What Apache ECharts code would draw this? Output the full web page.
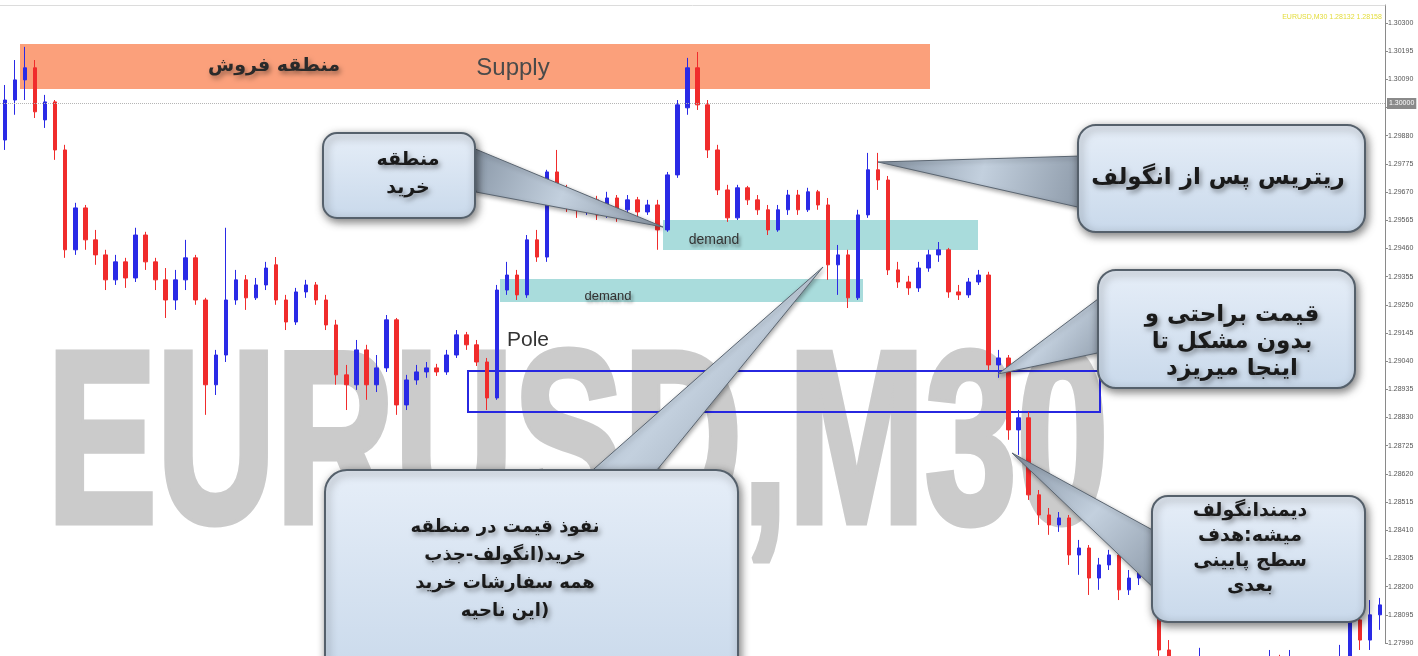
<!DOCTYPE html>
<html>
<head>
<meta charset="utf-8">
<title>EURUSD M30</title>
<script src="https://cdn.jsdelivr.net/npm/echarts@6/dist/echarts.min.js"></script>
<style>
  html, body { margin: 0; padding: 0; background: #fff; }
  #chart-container { width: 1418px; height: 656px; }
</style>
</head>
<body>
<div id="chart-container"></div>
<script>
// EURUSD M30 candles (open / close / low / high)
var opens = [1.29864,1.30013,1.30088,1.30133,1.29939,1.30006,1.29827,1.29455,1.29611,1.29492,
  1.29436,1.29343,1.29410,1.29350,1.29510,1.29410,1.29343,1.29268,1.29343,1.29425,
  1.29268,1.28952,1.29063,1.29268,1.29343,1.29276,1.29324,1.29399,1.29268,1.29186,
  1.29298,1.29324,1.29268,1.29175,1.28989,1.28952,1.29082,1.28952,1.29015,1.29194,
  1.28877,1.28970,1.29000,1.29015,1.29000,1.29063,1.29138,1.29101,1.29037,1.28903,
  1.29305,1.29361,1.29287,1.29492,1.29428,1.29745,1.29659,1.29622,1.29604,1.29641,
  1.29585,1.29648,1.29604,1.29641,1.29596,1.29622,1.29529,1.29734,1.29984,1.30133,
  1.29995,1.29827,1.29678,1.29574,1.29686,1.29641,1.29604,1.29529,1.29604,1.29659,
  1.29604,1.29671,1.29622,1.29399,1.29436,1.29276,1.29585,1.29753,1.29715,1.29380,
  1.29335,1.29313,1.29387,1.29436,1.29455,1.29298,1.29287,1.29335,1.29361,1.29026,
  1.29052,1.28784,1.28829,1.28542,1.28467,1.28430,1.28456,1.28318,1.28344,1.28232,
  1.28281,1.28318,1.28188,1.28232,1.28281,1.28329,1.27964,1.27852,1.27778,1.27815,
  1.27890,1.27778,1.27703,1.27759,1.27722,1.27796,1.27852,1.27908,1.27815,1.27897,
  1.27796,1.27759,1.27815,1.27890,1.27927,1.28076,1.28001,1.28095];
var closes = [1.30013,1.30088,1.30133,1.29969,1.30006,1.29827,1.29455,1.29611,1.29492,1.29436,
  1.29343,1.29410,1.29350,1.29510,1.29410,1.29343,1.29268,1.29343,1.29425,1.29268,
  1.28952,1.29063,1.29268,1.29343,1.29276,1.29324,1.29387,1.29268,1.29186,1.29298,
  1.29324,1.29268,1.29175,1.28989,1.28952,1.29082,1.28952,1.29015,1.29194,1.28877,
  1.28970,1.29000,1.29015,1.29000,1.29063,1.29138,1.29101,1.29037,1.28903,1.29305,
  1.29361,1.29287,1.29492,1.29428,1.29745,1.29659,1.29622,1.29604,1.29641,1.29585,
  1.29648,1.29604,1.29641,1.29596,1.29622,1.29529,1.29734,1.29995,1.30133,1.29995,
  1.29827,1.29678,1.29574,1.29686,1.29641,1.29604,1.29529,1.29604,1.29659,1.29604,
  1.29671,1.29622,1.29399,1.29436,1.29276,1.29585,1.29753,1.29715,1.29380,1.29335,
  1.29313,1.29387,1.29436,1.29455,1.29298,1.29287,1.29335,1.29361,1.29026,1.29052,
  1.28784,1.28829,1.28542,1.28467,1.28430,1.28456,1.28318,1.28344,1.28232,1.28281,
  1.28318,1.28188,1.28232,1.28281,1.28329,1.27964,1.27852,1.27778,1.27815,1.27890,
  1.27778,1.27703,1.27759,1.27722,1.27796,1.27852,1.27908,1.27815,1.27897,1.27796,
  1.27759,1.27815,1.27890,1.27927,1.28076,1.28001,1.28095,1.28132];
var lows = [1.29827,1.29958,1.30013,1.29946,1.29909,1.29790,1.29425,1.29436,1.29455,1.29399,
  1.29305,1.29324,1.29313,1.29335,1.29380,1.29305,1.29201,1.29231,1.29305,1.29250,
  1.28840,1.28914,1.29037,1.29250,1.29231,1.29268,1.29305,1.29250,1.29156,1.29175,
  1.29276,1.29250,1.29156,1.28952,1.28858,1.28933,1.28896,1.28925,1.29000,1.28840,
  1.28858,1.28952,1.28978,1.28985,1.28989,1.29052,1.29082,1.29022,1.28858,1.28896,
  1.29287,1.29268,1.29276,1.29410,1.29410,1.29641,1.29596,1.29574,1.29585,1.29566,
  1.29574,1.29559,1.29585,1.29574,1.29585,1.29455,1.29522,1.29723,1.29958,1.29976,
  1.29797,1.29659,1.29559,1.29566,1.29622,1.29585,1.29510,1.29522,1.29585,1.29585,
  1.29596,1.29604,1.29343,1.29287,1.29238,1.29268,1.29574,1.29678,1.29361,1.29313,
  1.29287,1.29298,1.29373,1.29410,1.29276,1.29268,1.29276,1.29324,1.29007,1.28978,
  1.28747,1.28691,1.28523,1.28430,1.28393,1.28404,1.28281,1.28244,1.28169,1.28188,
  1.28262,1.28150,1.28169,1.28206,1.28262,1.27890,1.27778,1.27703,1.27722,1.27778,
  1.27741,1.27647,1.27666,1.27685,1.27703,1.27778,1.27815,1.27778,1.27796,1.27759,
  1.27703,1.27733,1.27796,1.27852,1.27908,1.27964,1.27964,1.28039];
var highs = [1.30069,1.30162,1.30211,1.30162,1.30032,1.30013,1.29846,1.29630,1.29622,1.29529,
  1.29455,1.29436,1.29425,1.29537,1.29522,1.29425,1.29387,1.29380,1.29492,1.29436,
  1.29276,1.29082,1.29537,1.29380,1.29361,1.29350,1.29410,1.29428,1.29287,1.29313,
  1.29343,1.29335,1.29287,1.29194,1.29026,1.29119,1.29101,1.29063,1.29212,1.29201,
  1.28989,1.29026,1.29037,1.29030,1.29082,1.29156,1.29149,1.29119,1.29052,1.29324,
  1.29410,1.29380,1.29510,1.29529,1.29753,1.29827,1.29697,1.29648,1.29659,1.29656,
  1.29671,1.29659,1.29659,1.29652,1.29641,1.29641,1.29745,1.30013,1.30170,1.30192,
  1.30013,1.29846,1.29697,1.29697,1.29693,1.29659,1.29622,1.29622,1.29678,1.29678,
  1.29686,1.29678,1.29648,1.29473,1.29455,1.29604,1.29816,1.29816,1.29730,1.29410,
  1.29358,1.29410,1.29455,1.29484,1.29462,1.29324,1.29350,1.29380,1.29373,1.29082,
  1.29063,1.28858,1.28851,1.28560,1.28493,1.28478,1.28467,1.28374,1.28355,1.28307,
  1.28337,1.28329,1.28262,1.28299,1.28355,1.28344,1.28001,1.27890,1.27927,1.27972,
  1.27908,1.27815,1.27778,1.27796,1.27852,1.27908,1.27964,1.27946,1.27964,1.27927,
  1.27834,1.27852,1.27927,1.27983,1.28132,1.28113,1.28150,1.28158];

// price scale on the right
var yMin = 1.27990;
var yStep = 0.00105;
var yMax = 1.30367;
var levelPrice = 1.30002;

var bars = opens.map(function (o, i) { return String(i + 1); });
var candles = opens.map(function (o, i) { return [o, closes[i], lows[i], highs[i]]; });

var uiFont = '"DejaVu Sans", sans-serif';

function calloutBox(x, y, w, h, r) {
  return {
    type: 'rect', z: 11,
    shape: { x: x, y: y, width: w, height: h, r: r },
    style: {
      fill: new echarts.graphic.LinearGradient(0, 0, 0, 1, [
        { offset: 0, color: '#e6eef8' },
        { offset: 1, color: '#c9d9eb' }
      ]),
      stroke: '#55606b', lineWidth: 2,
      shadowBlur: 8, shadowColor: 'rgba(0,0,0,0.5)', shadowOffsetX: 2, shadowOffsetY: 3
    }
  };
}

function pointer(points) {
  return {
    type: 'polygon', z: 10,
    shape: { points: points },
    style: {
      fill: new echarts.graphic.LinearGradient(0, 0, 1, 1, [
        { offset: 0, color: '#8593a3' },
        { offset: 0.5, color: '#c3d0de' },
        { offset: 1, color: '#8c99a8' }
      ]),
      stroke: '#5b6672', lineWidth: 1,
      shadowBlur: 4, shadowColor: 'rgba(0,0,0,0.35)', shadowOffsetX: 1, shadowOffsetY: 2
    }
  };
}

function label(x, y, text, size, lineHeight, extra) {
  var el = {
    type: 'text', z: 12, x: x, y: y,
    style: {
      text: text,
      font: 'bold ' + size + 'px ' + uiFont,
      fill: '#1a1a1a',
      textAlign: 'center',
      textVerticalAlign: 'middle',
      lineHeight: lineHeight || size,
      textShadowColor: 'rgba(0,0,0,0.4)',
      textShadowBlur: 5,
      textShadowOffsetX: 2,
      textShadowOffsetY: 3
    }
  };
  if (extra) Object.assign(el.style, extra);
  return el;
}

var dom = document.getElementById('chart-container');
var myChart = echarts.init(dom, null, { renderer: 'canvas' });

var option = {
  backgroundColor: '#ffffff',
  animation: false,
  grid: { left: 0, right: 33, top: 5, bottom: 13 },
  xAxis: {
    type: 'category',
    data: bars,
    position: 'top',
    boundaryGap: true,
    axisLine: { lineStyle: { color: '#dcdcdc' } },
    axisTick: { show: false },
    axisLabel: { show: false },
    splitLine: { show: false }
  },
  yAxis: {
    type: 'value',
    position: 'right',
    min: yMin,
    max: yMax,
    interval: yStep,
    axisLine: { show: true, lineStyle: { color: '#8a8a8a' } },
    axisTick: { show: true, length: 3, lineStyle: { color: '#8a8a8a' } },
    axisLabel: {
      fontSize: 7,
      color: '#555',
      margin: 3,
      fontFamily: 'Liberation Sans',
      showMaxLabel: false,
      formatter: function (v) { return v.toFixed(5); }
    },
    splitLine: { show: false }
  },
  series: [
    {
      type: 'candlestick',
      data: candles,
      clip: false,
      barWidth: 4,
      z: 3,
      itemStyle: {
        color: '#2a2ae6',
        color0: '#f02c2c',
        borderColor: '#2a2ae6',
        borderColor0: '#f02c2c',
        borderWidth: 1
      },
      markLine: {
        silent: true,
        symbol: ['none', 'none'],
        lineStyle: { color: '#b5b5b5', type: 'dotted', width: 1 },
        label: {
          position: 'end',
          distance: 2,
          fontSize: 7,
          color: '#fff',
          backgroundColor: '#8a8a8a',
          padding: [2, 2],
          formatter: function (p) { return p.value.toFixed(5); }
        },
        data: [{ yAxis: levelPrice }]
      }
    }
  ],
  graphic: [
    // watermark
    {
      type: 'text', z: 0, x: 47, y: 454, scaleX: 0.672,
      style: {
        text: 'EURUSD,M30',
        font: 'bold 245px "Liberation Sans"',
        fill: '#cbcbcb',
        stroke: '#cbcbcb',
        lineWidth: 7,
        textAlign: 'left',
        textVerticalAlign: 'middle'
      }
    },
    // zones
    { type: 'rect', z: 1, shape: { x: 20, y: 44, width: 910, height: 45 }, style: { fill: '#fba07b' } },
    { type: 'rect', z: 1, shape: { x: 663, y: 220, width: 315, height: 30 }, style: { fill: '#a9dcdc' } },
    { type: 'rect', z: 1, shape: { x: 500, y: 279, width: 363, height: 23 }, style: { fill: '#a9dcdc' } },
    { type: 'rect', z: 1, shape: { x: 468, y: 371, width: 632, height: 41 }, style: { fill: 'none', stroke: '#2727e0', lineWidth: 2 } },
    label(274, 66, 'منطقه فروش', 19, 19, { fill: '#2a2a2a' }),
    label(513, 68, 'Supply', 24, 24, { font: '24px "Liberation Sans"', fill: '#4a4a4a', textShadowBlur: 0, textShadowOffsetX: 0, textShadowOffsetY: 0 }),
    label(714, 240, 'demand', 14, 14, { font: '14px "Liberation Sans"', fill: '#333', textShadowBlur: 3 }),
    label(608, 296, 'demand', 13, 13, { font: '13px "Liberation Sans"', fill: '#333', textShadowBlur: 3 }),
    label(528, 340, 'Pole', 21, 21, { font: '21px "Liberation Sans"', fill: '#333', textShadowBlur: 0, textShadowOffsetX: 0, textShadowOffsetY: 0 }),
    // top-right info
    { type: 'text', z: 5, x: 1332, y: 17, style: { text: 'EURUSD,M30 1.28132 1.28158', font: '7px "Liberation Sans"', fill: '#e3dc3a', textAlign: 'center', textVerticalAlign: 'middle' } },

    // callouts: pointers first, boxes over them, text on top
    pointer([[468, 146], [476, 192], [663, 227]]),
    calloutBox(323, 133, 152, 85, 14),
    label(408, 174, 'منطقه\nخرید', 19, 28),

    pointer([[1082, 156], [1082, 208], [878, 162]]),
    calloutBox(1078, 125, 287, 107, 18),
    label(1218, 178, 'ریتریس پس از انگولف', 23, 24),

    pointer([[1102, 296], [1102, 352], [998, 374]]),
    calloutBox(1098, 270, 257, 118, 18),
    label(1232, 342, 'قیمت براحتی و\nبدون مشکل تا\nاینجا میریزد', 23, 27),

    pointer([[1158, 533], [1158, 592], [1012, 453]]),
    calloutBox(1152, 496, 213, 126, 16),
    label(1250, 549, 'دیمندانگولف\nمیشه:هدف\nسطح پایینی\nبعدی', 19, 25),

    pointer([[586, 476], [652, 476], [823, 267]]),
    calloutBox(325, 470, 413, 210, 22),
    label(505, 569, 'نفوذ قیمت در منطقه\nخرید(انگولف-جذب\nهمه سفارشات خرید\nاین ناحیه)', 18, 28)
  ]
};

if (option && typeof option === 'object') {
  myChart.setOption(option);
}

window.addEventListener('resize', myChart.resize);
</script>
</body>
</html>
